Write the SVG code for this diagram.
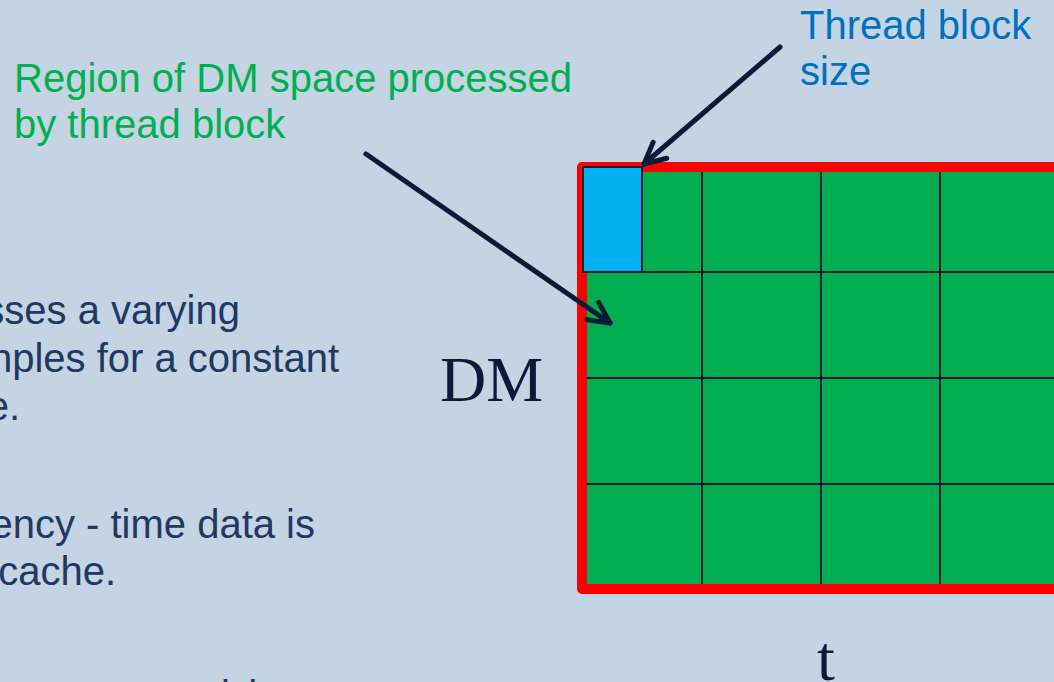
<svg xmlns="http://www.w3.org/2000/svg" width="1054" height="682" viewBox="0 0 1054 682">
  <style>
    .body { font-family: "Liberation Sans", Arial, sans-serif; font-size: 40px; fill: #203864; }
    .green { font-family: "Liberation Sans", Arial, sans-serif; font-size: 40px; fill: #00B050; }
    .blue { font-family: "Liberation Sans", Arial, sans-serif; font-size: 40px; fill: #0070C0; }
    .axis { font-family: "Liberation Serif", "Times New Roman", serif; fill: #0C1A3A; }
    .grid { stroke: #0C1A3A; stroke-width: 2; fill: none; }
    .conn { stroke: #0C1A3A; stroke-width: 5; stroke-linecap: round; fill: none; }
  </style>
  <defs>
    <marker id="chev" markerUnits="userSpaceOnUse" viewBox="-26 -14 30 28" refX="0" refY="0" markerWidth="30" markerHeight="28" orient="auto" overflow="visible">
      <path d="M -21 -10.5 L 0 0 L -21 10.5" stroke="#0C1A3A" stroke-width="5" fill="none" stroke-linecap="round" stroke-linejoin="round"/>
    </marker>
  </defs>
  <rect x="0" y="0" width="1054" height="682" fill="#C4D4E3"/>

  <g id="body-text">
    <text class="body" x="240" y="324" text-anchor="end">sses a varying</text>
    <text class="body" x="339" y="372" text-anchor="end">nples for a constant</text>
    <text class="body" x="20" y="420" text-anchor="end">e.</text>
    <text class="body" x="315" y="538" text-anchor="end">ency - time data is</text>
    <text class="body" x="116" y="585" text-anchor="end">cache.</text>
    <text class="body" x="221 235" y="709">id</text>
  </g>

  <g id="label-region">
    <text class="green" x="14" y="92">Region of DM space processed</text>
    <text class="green" x="14" y="138">by thread block</text>
  </g>

  <g id="label-threadblock">
    <text class="blue" x="800" y="39">Thread block</text>
    <text class="blue" x="800" y="85">size</text>
  </g>

  <g id="axis-dm">
    <text class="axis" x="440" y="401" font-size="64">DM</text>
  </g>
  <g id="axis-t">
    <text class="axis" x="817" y="680" font-size="64">t</text>
  </g>

  <g id="dm-grid">
    <rect x="582" y="167" width="500" height="422" fill="#00AD4F" stroke="#FF0000" stroke-width="10" stroke-linejoin="round"/>
    <line class="grid" x1="702" y1="172" x2="702" y2="584"/>
    <line class="grid" x1="821" y1="172" x2="821" y2="584"/>
    <line class="grid" x1="940" y1="172" x2="940" y2="584"/>
    <line class="grid" x1="587" y1="272" x2="1054" y2="272"/>
    <line class="grid" x1="587" y1="378" x2="1054" y2="378"/>
    <line class="grid" x1="587" y1="484" x2="1054" y2="484"/>
  </g>

  <g id="thread-block">
    <rect x="583" y="167" width="59" height="105" fill="#00B0F0" stroke="#0C1A3A" stroke-width="2"/>
  </g>

  <g id="connectors">
    <line class="conn" x1="366" y1="154" x2="610" y2="323" marker-end="url(#chev)"/>
    <line class="conn" x1="780" y1="47" x2="644" y2="164" marker-end="url(#chev)"/>
  </g>
</svg>
